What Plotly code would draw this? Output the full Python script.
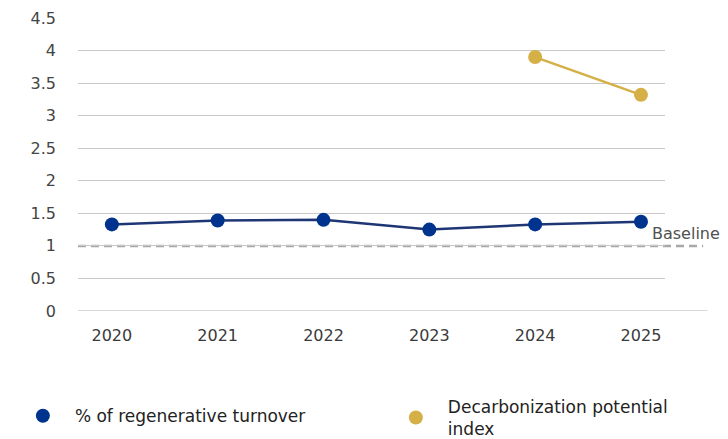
import plotly.graph_objects as go

years = [2020, 2021, 2022, 2023, 2024, 2025]
regen_turnover = [1.33, 1.39, 1.40, 1.25, 1.33, 1.37]
decarb_years = [2024, 2025]
decarb_index = [3.90, 3.32]
baseline = 1
y_ticks = [0, 0.5, 1, 1.5, 2, 2.5, 3, 3.5, 4, 4.5]

NAVY = '#00338d'
NAVY_LINE = '#1f3675'
GOLD = '#d4b047'
FONT = 'DejaVu Sans'

fig = go.Figure()
# lines without legend, markers carry the legend entries
fig.add_trace(go.Scatter(x=years, y=regen_turnover, mode='lines', showlegend=False,
                         line=dict(color=NAVY_LINE, width=2.5), hoverinfo='skip'))
fig.add_trace(go.Scatter(x=decarb_years, y=decarb_index, mode='lines', showlegend=False,
                         line=dict(color=GOLD, width=2.5), hoverinfo='skip'))
fig.add_trace(go.Scatter(x=years, y=regen_turnover, name='% of regenerative turnover',
                         mode='markers', marker=dict(color=NAVY, size=14), legend='legend'))
fig.add_trace(go.Scatter(x=decarb_years, y=decarb_index, name='Decarbonization potential<br>index',
                         mode='markers', marker=dict(color=GOLD, size=14), legend='legend2'))

# extended zero line and dashed baseline (white underlay hides the grid line at 1)
fig.add_shape(type='line', xref='paper', yref='y', x0=0, x1=1.072, y0=0, y1=0,
              line=dict(color='#c8c8c8', width=1.5), layer='between')
fig.add_shape(type='line', xref='paper', yref='y', x0=0, x1=1.07, y0=baseline, y1=baseline,
              line=dict(color='white', width=3), layer='between')
fig.add_shape(type='line', xref='paper', yref='y', x0=0, x1=1.065, y0=baseline, y1=baseline,
              line=dict(color='#a8a8a8', width=2.5, dash='8px,5px'), layer='between')
fig.add_annotation(xref='paper', yref='y', x=0.975, y=baseline, yshift=12,
                   text='Baseline', showarrow=False, xanchor='left',
                   font=dict(family=FONT, size=16, color='#505050'))

legend_style = dict(
    orientation='h', xref='container', yref='container', yanchor='middle', xanchor='left',
    itemwidth=54, valign='middle', bgcolor='rgba(0,0,0,0)',
    font=dict(family=FONT, size=17, color='#222222'),
)

# the page body has an 8px margin, so the figure is 8px smaller each way
fig.update_layout(
    width=720, height=431,
    margin=dict(l=70, r=63, t=10, b=128),
    paper_bgcolor='white', plot_bgcolor='white',
    font=dict(family=FONT, size=16, color='#3a3a3a'),
    showlegend=True,
    legend=dict(x=0.004, y=0.053, **legend_style),
    legend2=dict(x=0.522, y=0.049, **legend_style),
    xaxis=dict(
        range=[2019.68, 2025.227], tickmode='array', tickvals=years,
        showgrid=False, zeroline=False, showline=False, ticks='',
        automargin=False, ticklabelstandoff=13,
        tickfont=dict(size=16, color='#3a3a3a'),
    ),
    yaxis=dict(
        range=[0, 4.5], tickmode='array', tickvals=y_ticks,
        ticktext=[f'{v:g}' for v in y_ticks],
        showgrid=True, gridcolor='#c8c8c8', gridwidth=1,
        zeroline=False, showline=False, ticks='', ticklabelstandoff=21,
        automargin=False,
        tickfont=dict(size=16, color='#444444'),
    ),
)

fig.write_html('out.html')
